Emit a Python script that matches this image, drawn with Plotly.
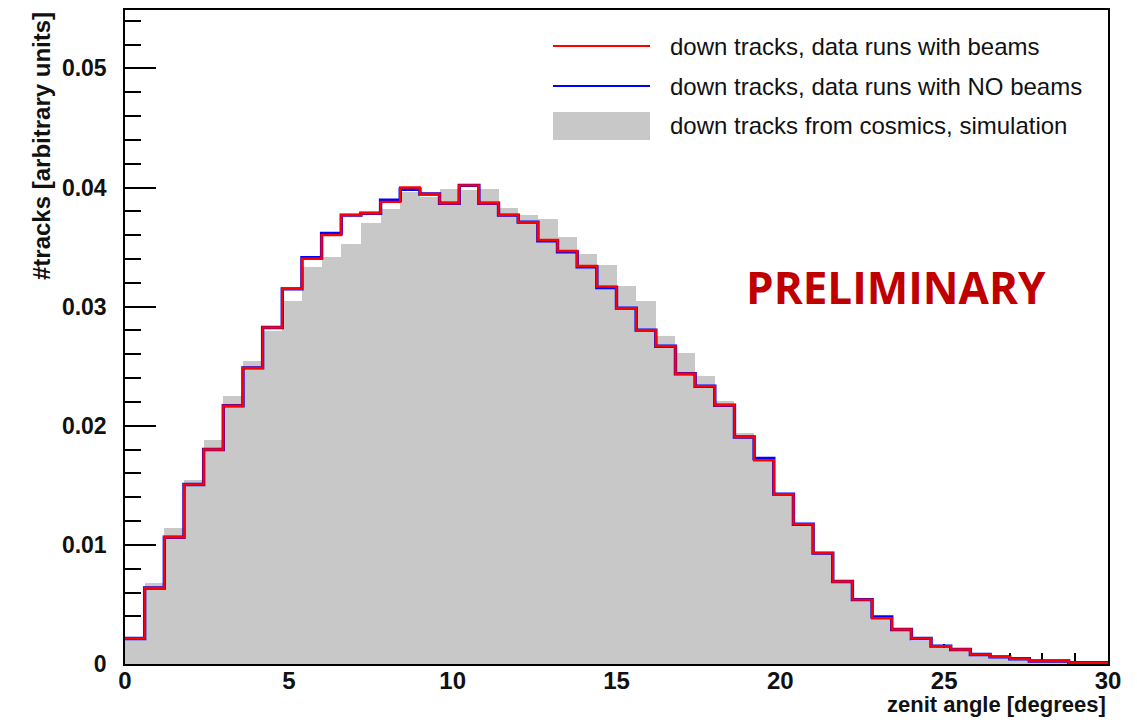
import plotly.graph_objects as go

# bin edges: 50 bins of width 0.6 from 0 to 30
bin_width = 0.6
n_bins = 50
bin_left = [round(i * bin_width, 2) for i in range(n_bins)]

beams = [0.00214, 0.00638, 0.01064, 0.01507, 0.0180, 0.02168, 0.02486, 0.02825, 0.03149, 0.03402,
         0.0360, 0.03768, 0.03784, 0.03879, 0.04000, 0.03946, 0.03868, 0.04018, 0.03868, 0.03768,
         0.03709, 0.03559, 0.03467, 0.03341, 0.03168, 0.02987, 0.02803, 0.02667, 0.02436, 0.02332,
         0.02172, 0.01906, 0.01711, 0.01426, 0.01173, 0.00931, 0.00693, 0.0054, 0.00384, 0.00289,
         0.00214, 0.0015, 0.00122, 0.0008, 0.0006, 0.00044, 0.00025, 0.00025, 0.0001, 0.0001]

no_beams = [0.00214, 0.00638, 0.01064, 0.01507, 0.0180, 0.02168, 0.02486, 0.02825, 0.03149, 0.03410,
            0.03615, 0.03768, 0.03784, 0.03893, 0.03985, 0.03946, 0.03868, 0.04018, 0.03868, 0.03768,
            0.03709, 0.03552, 0.03460, 0.03334, 0.03160, 0.02987, 0.02803, 0.02667, 0.02436, 0.02332,
            0.02172, 0.01906, 0.01725, 0.01426, 0.01173, 0.00931, 0.00693, 0.0054, 0.00396, 0.00289,
            0.00214, 0.0015, 0.00122, 0.0008, 0.0006, 0.00044, 0.00025, 0.00025, 0.0001, 0.0001]

simulation = [0.0020, 0.0068, 0.01145, 0.01543, 0.01878, 0.02246, 0.02547, 0.02798, 0.03049, 0.03333,
              0.03416, 0.03528, 0.03703, 0.0382, 0.0396, 0.0392, 0.0399, 0.0398, 0.0399, 0.03829,
              0.03773, 0.03737, 0.03584, 0.03439, 0.03347, 0.03174, 0.03049, 0.0275, 0.02608, 0.02421,
              0.02205, 0.01938, 0.0173, 0.0143, 0.0118, 0.0093, 0.0069, 0.0054, 0.0039, 0.0029,
              0.0019, 0.00136, 0.0011, 0.0007, 0.0005, 0.0003, 0.0002, 0.00015, 0.0001, 0.00005]

legend_labels = ["down tracks, data runs with beams",
                 "down tracks, data runs with NO beams",
                 "down tracks from cosmics, simulation"]

x_ticks = [0, 5, 10, 15, 20, 25, 30]
y_ticks = [0, 0.01, 0.02, 0.03, 0.04, 0.05]
y_tick_text = ["0", "0.01", "0.02", "0.03", "0.04", "0.05"]

GRAY = "#c8c8c8"
RED = "#ff0000"
BLUE = "#0000ff"
FONT = "Liberation Sans, Arial"

step_x = bin_left + [30.0]

fig = go.Figure()
fig.add_trace(go.Bar(x=bin_left, y=simulation, width=bin_width, offset=0,
                     marker=dict(color=GRAY, line=dict(width=0)),
                     name=legend_labels[2], showlegend=False))
fig.add_trace(go.Scatter(x=step_x, y=no_beams + [no_beams[-1]], mode="lines",
                         line=dict(color=BLUE, width=3.4, shape="hv"),
                         name=legend_labels[1], showlegend=False))
fig.add_trace(go.Scatter(x=step_x, y=beams + [beams[-1]], mode="lines",
                         line=dict(color=RED, width=2.4, shape="hv"),
                         name=legend_labels[0], showlegend=False))

# page offset of 8px (body margin) compensated
OFF = 8
W, H = 1137 - 2 * OFF, 725 - 2 * OFF
L, T = 125 - OFF, 10 - OFF
R = W - (1108 - OFF)
B = H - (664 - OFF)
pw, ph = W - L - R, H - T - B

def px(xp):  # reference page pixel -> paper x
    return (xp - OFF - L) / pw

def py(yp):  # reference page pixel -> paper y
    return (H - B - (yp - OFF)) / ph

shapes = []
annotations = []
# manual legend
leg_x0, leg_x1, text_x = 553, 650, 668
for i, (lab, yc) in enumerate(zip(legend_labels, [46, 86, 126])):
    if i < 2:
        shapes.append(dict(type="line", xref="paper", yref="paper",
                           x0=px(leg_x0), x1=px(leg_x1), y0=py(yc), y1=py(yc),
                           line=dict(color=[RED, BLUE][i], width=2)))
    else:
        shapes.append(dict(type="rect", xref="paper", yref="paper",
                           x0=px(leg_x0), x1=px(leg_x1), y0=py(yc - 14), y1=py(yc + 14),
                           fillcolor=GRAY, line=dict(width=0)))
    annotations.append(dict(xref="paper", yref="paper", x=px(text_x), y=py(yc),
                            xanchor="left", yanchor="middle", showarrow=False, text=lab,
                            font=dict(family=FONT, size=24, color="#111111")))

annotations.append(dict(xref="paper", yref="paper", x=px(896), y=py(287),
                        xanchor="center", yanchor="middle", showarrow=False, text="<b>PRELIMINARY</b>",
                        font=dict(family="Open Sans", size=44, color="#c00000")))
annotations.append(dict(xref="paper", yref="paper", x=1.0, y=py(705),
                        xanchor="right", yanchor="middle", showarrow=False,
                        text="<b>zenit angle [degrees]</b>",
                        font=dict(family=FONT, size=22, color="#111111")))
annotations.append(dict(xref="paper", yref="paper", x=px(41), y=1.0, textangle=-90,
                        xanchor="center", yanchor="top", showarrow=False,
                        text="<b>#tracks [arbitrary units]</b>",
                        font=dict(family=FONT, size=24, color="#111111")))

fig.update_layout(
    width=W, height=H,
    margin=dict(l=L, r=R, t=T, b=B, pad=0),
    paper_bgcolor="white", plot_bgcolor="white",
    bargap=0, barmode="overlay",
    showlegend=False,
    shapes=shapes, annotations=annotations,
    font=dict(family=FONT, color="#111111"),
)
fig.update_xaxes(range=[0, 30], tickmode="array", tickvals=x_ticks,
                 ticks="inside", ticklen=20, tickwidth=1.5, tickcolor="black",
                 minor=dict(ticks="inside", dtick=1, ticklen=11, tickwidth=1.5, tickcolor="black"),
                 showgrid=False, zeroline=False, showline=True, linecolor="black", linewidth=1.5,
                 mirror=True, layer="below traces", automargin=False, ticklabelstandoff=-6,
                 tickfont=dict(size=24, family=FONT, weight="bold", color="#111111"))
fig.update_yaxes(range=[0, 0.0549], tickmode="array", tickvals=y_ticks, ticktext=y_tick_text,
                 ticks="inside", ticklen=31, tickwidth=1.5, tickcolor="black",
                 minor=dict(ticks="inside", dtick=0.002, ticklen=16, tickwidth=1.5, tickcolor="black"),
                 showgrid=False, zeroline=False, showline=True, linecolor="black", linewidth=1.5,
                 mirror=True, layer="below traces", automargin=False, ticklabelstandoff=12,
                 tickfont=dict(size=23, family=FONT, weight="bold", color="#111111"))

fig.write_html("out.html")
